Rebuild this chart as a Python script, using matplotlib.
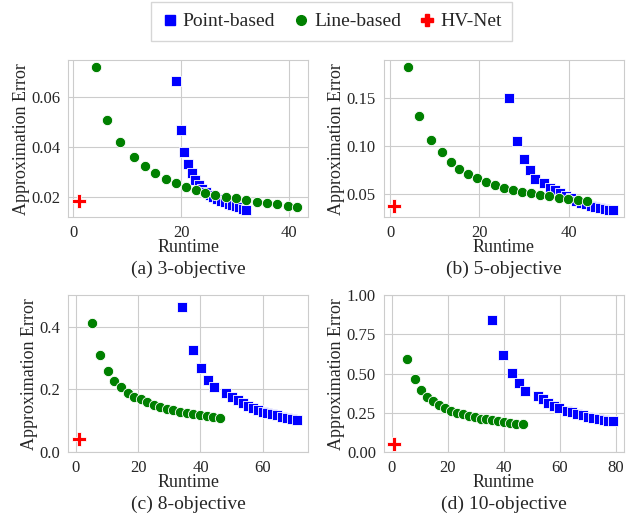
import matplotlib
matplotlib.use("Agg")
import matplotlib.pyplot as plt
import seaborn as sns
from matplotlib.lines import Line2D

# 3-objective
a_point_x = [19.1, 19.9, 20.6, 21.3, 22.0, 22.6, 23.3, 23.9, 24.6, 25.3,
             26.0, 26.7, 27.4, 28.1, 28.8, 29.5, 30.1, 30.8, 31.5, 32.1]
a_point_y = [0.0666, 0.047, 0.0383, 0.0334, 0.0298, 0.0271, 0.0251, 0.0234, 0.022, 0.021,
             0.0202, 0.0194, 0.0187, 0.018, 0.0175, 0.017, 0.0165, 0.016, 0.0155, 0.015]
a_line_x = [4.2, 6.3, 8.6, 11.3, 13.3, 15.2, 17.1, 19.0, 20.9, 22.7,
            24.5, 26.3, 28.3, 30.2, 32.1, 34.0, 35.9, 37.8, 39.8, 41.6]
a_line_y = [0.0719, 0.051, 0.042, 0.036, 0.0325, 0.0298, 0.0274, 0.0256, 0.0243, 0.0228,
            0.0219, 0.0211, 0.0203, 0.0196, 0.019, 0.0182, 0.0178, 0.0172, 0.0167, 0.0163]
a_hv = (1.0, 0.0186)

# 5-objective
b_point_x = [26.7, 28.5, 29.9, 31.3, 32.4, 34.4, 35.7, 36.9, 38.1, 39.3,
             40.5, 41.7, 42.8, 43.9, 44.9, 45.8, 46.9, 48.0, 49.0, 49.9]
b_point_y = [0.1496, 0.1051, 0.0858, 0.0743, 0.0657, 0.0608, 0.0563, 0.0535, 0.0507, 0.0479,
             0.0451, 0.0424, 0.0405, 0.0388, 0.0372, 0.0358, 0.0347, 0.0338, 0.0333, 0.033]
b_line_x = [4.1, 6.4, 9.2, 11.6, 13.6, 15.5, 17.5, 19.4, 21.4, 23.5,
            25.6, 27.6, 29.6, 31.5, 33.6, 35.6, 37.7, 39.8, 42.1, 44.0]
b_line_y = [0.1817, 0.1308, 0.1064, 0.0936, 0.0831, 0.0761, 0.0709, 0.0667, 0.0625, 0.0591,
            0.0563, 0.0542, 0.0518, 0.0503, 0.0487, 0.0472, 0.0458, 0.0445, 0.0434, 0.042]
b_hv = (1.0, 0.037)

# 8-objective
c_point_x = [34.2, 37.6, 40.3, 42.3, 44.4, 48.1, 50.2, 52.0, 53.6, 55.2,
             56.8, 58.3, 59.9, 61.4, 63.0, 64.5, 66.1, 67.7, 69.2, 71.1]
c_point_y = [0.462, 0.326, 0.267, 0.231, 0.207, 0.189, 0.175, 0.165, 0.156, 0.148,
             0.141, 0.135, 0.129, 0.125, 0.121, 0.117, 0.112, 0.109, 0.106, 0.104]
c_line_x = [5.1, 7.9, 10.4, 12.4, 14.5, 16.7, 18.7, 20.9, 23.0, 25.0,
            27.1, 29.2, 31.3, 33.5, 35.6, 37.7, 39.9, 42.0, 44.1, 46.3]
c_line_y = [0.411, 0.308, 0.258, 0.228, 0.207, 0.189, 0.177, 0.168, 0.159, 0.151,
            0.143, 0.137, 0.133, 0.128, 0.125, 0.122, 0.118, 0.116, 0.112, 0.108]
c_hv = (1.0, 0.043)

# 10-objective
d_point_x = [35.9, 39.8, 42.9, 45.3, 47.5, 52.1, 53.9, 55.8, 57.8, 59.8,
             62.6, 64.4, 66.3, 68.3, 70.2, 72.0, 73.8, 75.6, 77.3, 79.0]
d_point_y = [0.839, 0.621, 0.506, 0.443, 0.392, 0.360, 0.337, 0.315, 0.296, 0.280,
             0.265, 0.254, 0.243, 0.235, 0.226, 0.218, 0.212, 0.205, 0.201, 0.199]
d_line_x = [5.4, 8.2, 10.5, 12.7, 14.8, 16.9, 19.0, 21.1, 23.3, 25.5,
            27.5, 29.6, 31.8, 33.8, 35.9, 38.0, 40.2, 42.3, 44.4, 46.8]
d_line_y = [0.591, 0.464, 0.394, 0.352, 0.324, 0.301, 0.280, 0.265, 0.252, 0.245,
            0.233, 0.224, 0.214, 0.210, 0.203, 0.197, 0.193, 0.188, 0.182, 0.180]
d_hv = (1.0, 0.053)

titles = ["(a) 3-objective", "(b) 5-objective", "(c) 8-objective", "(d) 10-objective"]

sns.set_style("whitegrid")
plt.rcParams["font.family"] = ["Liberation Serif", "DejaVu Serif"]
plt.rcParams["font.size"] = 12

fig, axes = plt.subplots(2, 2, figsize=(6.41, 5.18), dpi=100)
fig.subplots_adjust(left=0.106, right=0.9735, top=0.884, bottom=0.127,
                    wspace=0.3125, hspace=0.497)

panels = [
    (a_point_x, a_point_y, a_line_x, a_line_y, a_hv),
    (b_point_x, b_point_y, b_line_x, b_line_y, b_hv),
    (c_point_x, c_point_y, c_line_x, c_line_y, c_hv),
    (d_point_x, d_point_y, d_line_x, d_line_y, d_hv),
]

for i, (ax, (px, py, lx, ly, hv)) in enumerate(zip(axes.flat, panels)):
    ax.scatter(px, py, marker="s", s=45, color="blue", edgecolor="white", linewidth=0.6, zorder=3)
    ax.scatter(lx, ly, marker="o", s=55, color="green", edgecolor="white", linewidth=0.6, zorder=3)
    ax.scatter([hv[0]], [hv[1]], marker="P", s=100, color="red", edgecolor="white", linewidth=0.6, zorder=3)
    ax.set_xlabel("Runtime", fontsize=13, labelpad=-1)
    ax.set_ylabel("Approximation Error", fontsize=13, labelpad=1)
    ax.tick_params(labelsize=12, pad=2, colors="0.15")
    ax.text(0.5, -0.33, titles[i], transform=ax.transAxes, ha="center", va="center", fontsize=14)

axes[1, 0].set_ylim(0, 0.5)
axes[1, 1].set_ylim(0, 1.0)
axes[1, 0].set_yticks([0.0, 0.2, 0.4])
axes[1, 1].set_yticks([0.0, 0.25, 0.5, 0.75, 1.0])
axes[1, 1].set_xticks([0, 20, 40, 60, 80])

handles = [
    Line2D([], [], marker="s", color="blue", linestyle="none", markersize=7, label="Point-based"),
    Line2D([], [], marker="o", color="green", linestyle="none", markersize=7, label="Line-based"),
    Line2D([], [], marker="P", color="red", linestyle="none", markersize=8, label="HV-Net"),
]
fig.legend(handles=handles, loc="upper center", bbox_to_anchor=(0.517, 0.996), ncol=3,
           fontsize=14, frameon=True, fancybox=False, edgecolor="0.8", borderaxespad=0,
           handlelength=0.9, handletextpad=0.2, columnspacing=0.9, borderpad=0.55)

fig.savefig("out.png", dpi=100)
